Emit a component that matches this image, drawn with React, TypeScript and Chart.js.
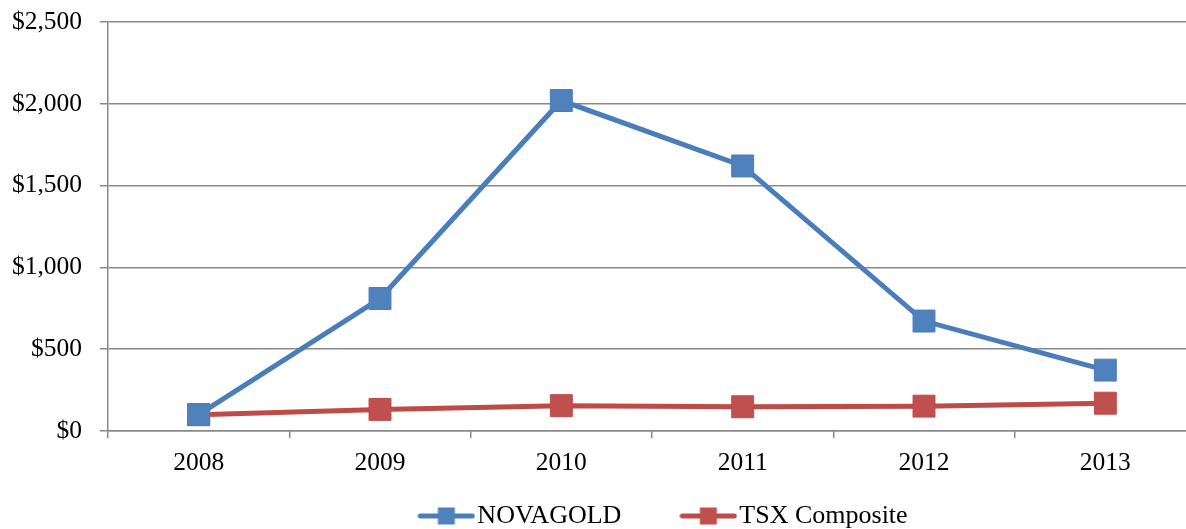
import React, { useEffect, useRef } from 'react';
import { Chart, registerables } from 'chart.js';

Chart.register(...registerables);

const years = ['2008', '2009', '2010', '2011', '2012', '2013'];
const novagold = [100, 810, 2020, 1620, 672, 372];
const tsxComposite = [100, 132, 155, 148, 152, 170];
const yTickValues = [0, 500, 1000, 1500, 2000, 2500];

const BLUE_LINE = '#4A7EBB';
const BLUE_FILL = '#4F81BD';
const RED_LINE = '#BE4B48';
const RED_FILL = '#C0504D';
const GRID = '#898989';
const FONT = '"Liberation Serif", "Times New Roman", serif';
const LEGEND_PAD = 69;

function legendIcon(line: string, fill: string): HTMLCanvasElement {
  const c = document.createElement('canvas');
  c.width = 58;
  c.height = 22;
  const ctx = c.getContext('2d')!;
  ctx.strokeStyle = line;
  ctx.lineWidth = 5;
  ctx.lineCap = 'round';
  ctx.beginPath();
  ctx.moveTo(3, 11);
  ctx.lineTo(55, 11);
  ctx.stroke();
  ctx.fillStyle = fill;
  ctx.fillRect(20.5, 2.5, 17, 17);
  return c;
}

// place the legend row where the reference shows it
const legendPlace = {
  id: 'legendPlace',
  afterLayout(chart: any) {
    const lg = chart.legend;
    if (!lg) return;
    const dx = 70;
    const dy = 503 - LEGEND_PAD - lg.top;
    lg.left += dx;
    lg.right += dx;
    lg.top += dy;
    lg.bottom += dy;
  },
};

export default function App() {
  const ref = useRef<HTMLCanvasElement>(null);

  useEffect(() => {
    if (!ref.current) return;
    const icons = [legendIcon(BLUE_LINE, BLUE_FILL), legendIcon(RED_LINE, RED_FILL)];
    const chart = new Chart(ref.current, {
      type: 'line',
      data: {
        labels: years,
        datasets: [
          {
            label: 'NOVAGOLD',
            data: novagold,
            borderColor: BLUE_LINE,
            backgroundColor: BLUE_FILL,
            borderWidth: 5,
            pointStyle: 'rect',
            pointRadius: 15.5,
            pointHoverRadius: 15.5,
            pointBackgroundColor: BLUE_FILL,
            pointBorderColor: BLUE_LINE,
            pointBorderWidth: 1,
            tension: 0,
          },
          {
            label: 'TSX Composite',
            data: tsxComposite,
            borderColor: RED_LINE,
            backgroundColor: RED_FILL,
            borderWidth: 5,
            pointStyle: 'rect',
            pointRadius: 15.5,
            pointHoverRadius: 15.5,
            pointBackgroundColor: RED_FILL,
            pointBorderColor: RED_LINE,
            pointBorderWidth: 1,
            tension: 0,
          },
        ],
      },
      options: {
        animation: false,
        responsive: false,
        maintainAspectRatio: false,
        layout: { autoPadding: false, padding: { left: 0, right: 0, top: 22, bottom: -64.6 } },
        plugins: {
          tooltip: { enabled: false },
          legend: {
            position: 'bottom',
            labels: {
              usePointStyle: true,
              pointStyleWidth: 36,
              padding: LEGEND_PAD,
              color: '#000',
              font: { family: FONT, size: 26 },
              generateLabels(chart: any) {
                const items = Chart.defaults.plugins.legend.labels.generateLabels(chart);
                return items.map((it: any, i: number) => ({ ...it, pointStyle: icons[i] }));
              },
            },
          },
        },
        scales: {
          x: {
            type: 'category',
            offset: true,
            grid: {
              offset: true,
              drawOnChartArea: false,
              drawTicks: true,
              tickLength: 7,
              color: GRID,
              lineWidth: 1.5,
            },
            border: { display: true, color: GRID, width: 1.5 },
            ticks: {
              color: '#000',
              padding: 10,
              maxRotation: 0,
              font: { family: FONT, size: 25.5 },
            },
            afterFit(scale: any) {
              scale.paddingLeft = 0;
              scale.paddingRight = 0;
            },
          },
          y: {
            min: 0,
            max: 2500,
            grid: {
              color: GRID,
              lineWidth: 1.5,
              tickLength: 8,
              drawTicks: true,
            },
            border: { display: true, color: GRID, width: 1.5 },
            afterBuildTicks(scale: any) {
              scale.ticks = yTickValues.map((v) => ({ value: v }));
            },
            afterFit(scale: any) {
              scale.width = 108;
              scale.paddingTop = 0;
              scale.paddingBottom = 0;
            },
            ticks: {
              color: '#000',
              padding: 18,
              font: { family: FONT, size: 25.5 },
              callback: (v: any) => '$' + Number(v).toLocaleString('en-US'),
            },
          },
        },
      },
      plugins: [legendPlace],
    });
    return () => chart.destroy();
  }, []);

  return (
    <div
      style={{
        position: 'fixed',
        left: 0,
        top: 0,
        width: 1186,
        height: 529,
        overflow: 'hidden',
        background: '#fff',
      }}
    >
      <canvas ref={ref} width={1196} height={529} style={{ display: 'block' }} />
    </div>
  );
}
